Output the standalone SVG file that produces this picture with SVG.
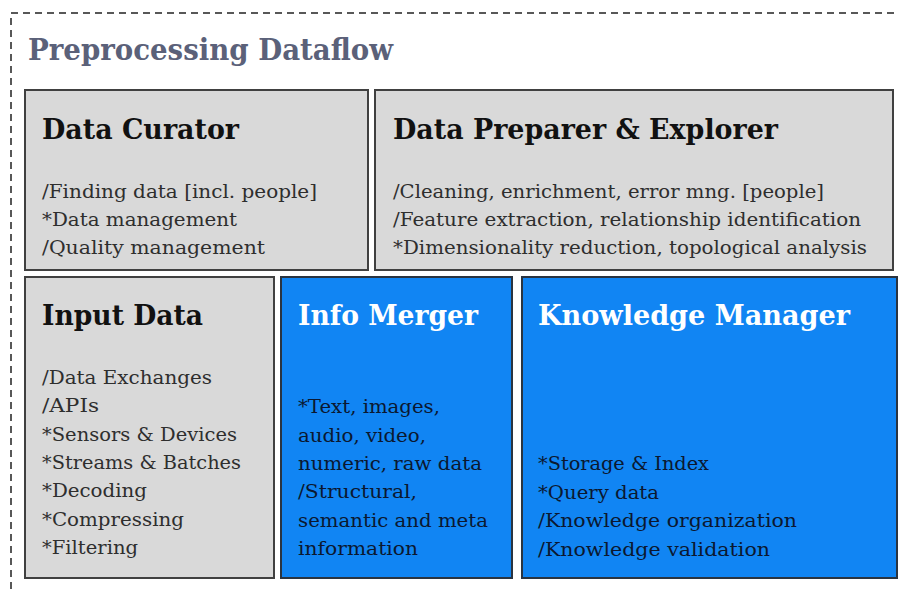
<svg xmlns="http://www.w3.org/2000/svg" width="899" height="593" viewBox="0 0 899 593">
<style>
.frame{fill:none;stroke:#222;stroke-width:1.5;stroke-dasharray:7 5}
.gray{fill:#d9d9d9;stroke:#404040;stroke-width:2}
.blue{fill:#1185f3;stroke:#2a3440;stroke-width:2}
text{font-family:"DejaVu Serif","Liberation Serif",serif}
.hdr{font-size:30px;font-weight:bold;fill:#5b6179}
.t{font-size:28px;font-weight:bold;fill:#111}
.tw{font-size:28px;font-weight:bold;fill:#fff}
.b{font-size:19px;fill:#2e2e2e}
.bb{font-size:19px;fill:#0b1830}
</style>
<rect class="frame" x="11" y="13" width="900" height="600"/>
<text class="hdr" x="28" y="60" textLength="365" lengthAdjust="spacingAndGlyphs">Preprocessing Dataflow</text>
<g id="data-curator">
<rect class="gray" x="25" y="90" width="343" height="180"/>
<text class="t" x="42" y="139" textLength="197" lengthAdjust="spacingAndGlyphs">Data Curator</text>
<text class="b" x="42" y="198" textLength="275" lengthAdjust="spacingAndGlyphs">/Finding data [incl. people]</text>
<text class="b" x="42" y="226" textLength="195" lengthAdjust="spacingAndGlyphs">*Data management</text>
<text class="b" x="42" y="254" textLength="223" lengthAdjust="spacingAndGlyphs">/Quality management</text>
</g>
<g id="data-preparer">
<rect class="gray" x="375" y="90" width="518" height="180"/>
<text class="t" x="393" y="139" textLength="385" lengthAdjust="spacingAndGlyphs">Data Preparer &amp; Explorer</text>
<text class="b" x="393" y="198" textLength="431" lengthAdjust="spacingAndGlyphs">/Cleaning, enrichment, error mng. [people]</text>
<text class="b" x="393" y="226" textLength="468" lengthAdjust="spacingAndGlyphs">/Feature extraction, relationship identification</text>
<text class="b" x="393" y="254" textLength="474" lengthAdjust="spacingAndGlyphs">*Dimensionality reduction, topological analysis</text>
</g>
<g id="input-data">
<rect class="gray" x="25" y="277" width="249" height="301"/>
<text class="t" x="42" y="325" textLength="161" lengthAdjust="spacingAndGlyphs">Input Data</text>
<text class="b" x="42" y="384" textLength="170" lengthAdjust="spacingAndGlyphs">/Data Exchanges</text>
<text class="b" x="42" y="412" textLength="57" lengthAdjust="spacingAndGlyphs">/APIs</text>
<text class="b" x="42" y="441" textLength="195" lengthAdjust="spacingAndGlyphs">*Sensors &amp; Devices</text>
<text class="b" x="42" y="469" textLength="199" lengthAdjust="spacingAndGlyphs">*Streams &amp; Batches</text>
<text class="b" x="42" y="497" textLength="105" lengthAdjust="spacingAndGlyphs">*Decoding</text>
<text class="b" x="42" y="526" textLength="142" lengthAdjust="spacingAndGlyphs">*Compressing</text>
<text class="b" x="42" y="554" textLength="96" lengthAdjust="spacingAndGlyphs">*Filtering</text>
</g>
<g id="info-merger">
<rect class="blue" x="281" y="277" width="231" height="301"/>
<text class="tw" x="298" y="325" textLength="180" lengthAdjust="spacingAndGlyphs">Info Merger</text>
<text class="bb" x="298" y="413" textLength="142" lengthAdjust="spacingAndGlyphs">*Text, images,</text>
<text class="bb" x="298" y="442" textLength="128" lengthAdjust="spacingAndGlyphs">audio, video,</text>
<text class="bb" x="298" y="470" textLength="184" lengthAdjust="spacingAndGlyphs">numeric, raw data</text>
<text class="bb" x="298" y="498" textLength="119" lengthAdjust="spacingAndGlyphs">/Structural,</text>
<text class="bb" x="298" y="527" textLength="190" lengthAdjust="spacingAndGlyphs">semantic and meta</text>
<text class="bb" x="298" y="555" textLength="120" lengthAdjust="spacingAndGlyphs">information</text>
</g>
<g id="knowledge-manager">
<rect class="blue" x="522" y="277" width="375" height="301"/>
<text class="tw" x="538" y="325" textLength="312" lengthAdjust="spacingAndGlyphs">Knowledge Manager</text>
<text class="bb" x="538" y="470" textLength="171" lengthAdjust="spacingAndGlyphs">*Storage &amp; Index</text>
<text class="bb" x="538" y="499" textLength="121" lengthAdjust="spacingAndGlyphs">*Query data</text>
<text class="bb" x="538" y="527" textLength="259" lengthAdjust="spacingAndGlyphs">/Knowledge organization</text>
<text class="bb" x="538" y="556" textLength="232" lengthAdjust="spacingAndGlyphs">/Knowledge validation</text>
</g>
<g id="connectors"/>
</svg>
